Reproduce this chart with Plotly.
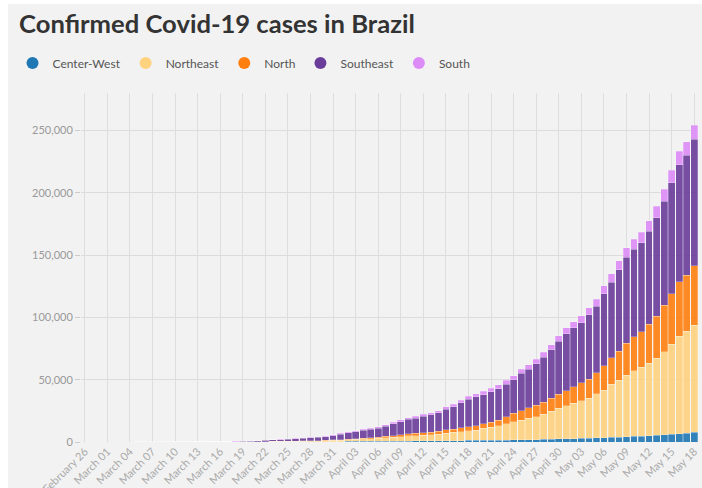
import pandas as pd
import plotly.graph_objects as go

# Categories: daily dates (the source series has no Feb 29 entry)
dates = [d.strftime("%B %d") for d in pd.date_range("2020-02-26", "2020-05-18") if d.strftime("%m-%d") != "02-29"]

center_west = [0, 0, 0,
    0, 0, 0, 0, 0, 1, 1, 1, 1, 2, 3, 4, 6, 8, 14, 16, 22, 35, 55, 80, 100, 130, 160, 180, 195, 225, 250, 270, 290, 300, 350,
    400, 440, 480, 520, 550, 580, 630, 690, 750, 800, 830, 870, 900, 950, 1030, 1080, 1150, 1220, 1300, 1360, 1430, 1500, 1600, 1700, 1800, 1900, 2000, 2150, 2300, 2450,
    2600, 2750, 2900, 3050, 3250, 3450, 3700, 3950, 4250, 4500, 4750, 5050, 5400, 5800, 6300, 6800, 7200, 7700]

northeast = [0, 0, 0,
    0, 0, 0, 0, 1, 1, 2, 2, 2, 3, 5, 7, 9, 12, 20, 24, 33, 50, 80, 120, 155, 215, 270, 330, 370, 455, 545, 630, 700, 760, 960,
    1180, 1430, 1660, 1930, 2130, 2350, 2720, 3200, 3650, 4100, 4350, 4700, 5000, 5450, 6100, 6600, 7200, 7800, 8300, 9640, 10270, 11600, 13100, 14600, 15800, 17100, 18300, 20050, 22500, 24550,
    26500, 28250, 30200, 32000, 35600, 38250, 42500, 45750, 49450, 52700, 55050, 57950, 61600, 66600, 72000, 78100, 81700, 86050]

north = [0, 0, 0,
    0, 0, 0, 0, 0, 0, 0, 0, 0, 0, 0, 1, 1, 1, 2, 2, 3, 5, 8, 14, 23, 36, 51, 66, 83, 110, 135, 165, 200, 230, 330,
    420, 530, 630, 750, 830, 920, 1080, 1300, 1480, 1650, 1750, 1900, 2050, 2250, 2550, 2750, 3000, 3300, 3500, 3600, 4100, 4500, 5600, 6700, 7500, 8500, 9300, 9700, 10400, 11200,
    12000, 13300, 14400, 15200, 16800, 19500, 21400, 23200, 25400, 27200, 28600, 31300, 34000, 37400, 40800, 43600, 44900, 47550]

southeast = [1, 1, 1,
    2, 2, 2, 3, 7, 11, 15, 19, 19, 25, 38, 56, 70, 86, 140, 165, 200, 290, 410, 590, 720, 990, 1200, 1380, 1510, 1805, 2107, 2409, 2606, 2799, 3477,
    4136, 4844, 5406, 6118, 6620, 7136, 8107, 9437, 10557, 11568, 12217, 13039, 13750, 14782, 16640, 17895, 20082, 21879, 23054, 23381, 24579, 25307, 26192, 26845, 30059, 30888, 33201, 36036, 38762, 42680,
    45689, 47209, 48347, 51930, 53165, 57618, 60606, 65128, 69139, 70299, 71631, 74589, 78774, 83418, 88923, 94042, 96380, 101520]

south = [0, 0, 0,
    0, 0, 0, 0, 0, 0, 1, 3, 3, 4, 6, 9, 12, 14, 24, 27, 33, 48, 68, 100, 130, 175, 210, 245, 275, 320, 380, 430, 460, 490, 600,
    700, 800, 880, 960, 1000, 1070, 1180, 1300, 1420, 1520, 1580, 1660, 1730, 1830, 2000, 2100, 2250, 2400, 2500, 2600, 2700, 2850, 3000, 3150, 3350, 3500, 3700, 3950, 4200, 4500,
    4800, 5050, 5300, 5600, 5900, 6400, 6900, 7300, 7700, 8000, 8300, 8700, 9200, 9700, 10200, 10600, 10900, 11400]

region_names = ["Center-West", "Northeast", "North", "Southeast", "South"]
region_values = [center_west, northeast, north, southeast, south]
region_colors = ["#1f77b4", "#ffd27f", "#ff7f0e", "#6a3d9a", "#dd8cf7"]

y_ticks = [0, 50000, 100000, 150000, 200000, 250000]
x_ticks = dates[::3]

FONT = "Lato"

fig = go.Figure()
for name, vals, col in zip(region_names, region_values, region_colors):
    fig.add_trace(go.Bar(
        x=dates, y=vals, name=name, legendgroup=name, showlegend=False,
        marker=dict(color=col, opacity=0.9, line=dict(color="rgba(255,255,255,0.5)", width=0.5)),
    ))
for name, col in zip(region_names, region_colors):
    fig.add_trace(go.Scatter(
        x=[None], y=[None], mode="markers", name=name, legendgroup=name,
        marker=dict(color=col, size=12, symbol="circle"),
    ))

fig.update_layout(
    width=694, height=484,
    margin=dict(l=58, r=4, t=89, b=46),
    paper_bgcolor="#f2f2f2", plot_bgcolor="#f2f2f2",
    barmode="stack", bargap=0.1,
    font=dict(family=FONT),
    title=dict(text="<b>Confirmed Covid-19 cases in Brazil</b>", x=0.016, xanchor="left",
               y=0.958, yanchor="middle", font=dict(family=FONT, size=25.6, color="#333333")),
    legend=dict(orientation="h", x=-0.111, xanchor="left", y=1.086, yanchor="middle",
                font=dict(family=FONT, size=12, color="#555555"), bgcolor="rgba(0,0,0,0)",
                itemclick=False, itemdoubleclick=False, tracegroupgap=0),
    hovermode=False,
)
fig.update_xaxes(
    type="category", tickmode="array", tickvals=x_ticks, ticktext=x_ticks,
    tickangle=-45, showgrid=True, gridcolor="#dedede", gridwidth=1,
    ticks="", showline=False, automargin=False,
    tickfont=dict(family=FONT, size=11, color="#aaaaaa"),
)
fig.update_yaxes(
    range=[0, 280000], tickmode="array", tickvals=y_ticks, tickformat=",",
    ticks="outside", ticklen=5, tickcolor="#cccccc",
    showgrid=True, gridcolor="#dcdcdc", gridwidth=1, zeroline=False, showline=False,
    automargin=False, tickfont=dict(family=FONT, size=11, color="#999999"),
)

fig.write_html("out.html", post_script="document.body.style.margin='4px 0 0 8px';document.body.style.overflow='hidden';")
